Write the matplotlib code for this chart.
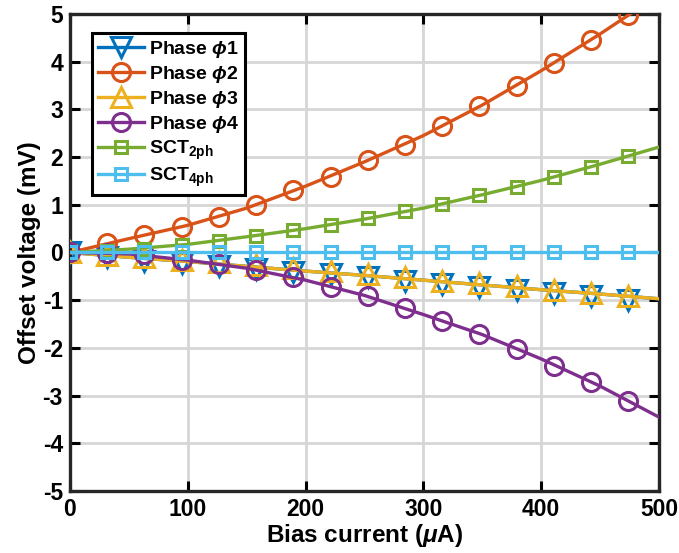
import matplotlib.pyplot as plt
from matplotlib.lines import Line2D

plt.rcParams['font.family'] = ['Liberation Sans', 'DejaVu Sans']
plt.rcParams['font.weight'] = 'bold'
plt.rcParams['axes.unicode_minus'] = False
plt.rcParams['mathtext.fontset'] = 'custom'
plt.rcParams['mathtext.rm'] = 'Liberation Sans:bold'
plt.rcParams['mathtext.bf'] = 'Liberation Sans:bold'
plt.rcParams['mathtext.it'] = 'Liberation Sans:italic'

# Puntos medidos (marcadores)
bias = [0, 31.6, 63.2, 94.8, 126.4, 158, 189.6, 221.2, 252.8, 284.4,
        316, 347.6, 379.2, 410.8, 442.4, 474]
phi1 = [0, -0.10, -0.17, -0.23, -0.28, -0.34, -0.40, -0.46, -0.52, -0.59,
        -0.66, -0.72, -0.78, -0.85, -0.92, -0.99]
phi2 = [0, 0.19, 0.36, 0.53, 0.74, 1.00, 1.30, 1.59, 1.93, 2.26,
        2.66, 3.06, 3.50, 3.97, 4.46, 4.97]
phi3 = [0, -0.05, -0.10, -0.15, -0.20, -0.27, -0.32, -0.38, -0.45, -0.52,
        -0.59, -0.64, -0.71, -0.78, -0.85, -0.91]
phi4 = [0, -0.01, -0.04, -0.15, -0.24, -0.36, -0.52, -0.72, -0.91, -1.16,
        -1.43, -1.70, -2.02, -2.37, -2.72, -3.12]
sct2 = [0, 0.03, 0.08, 0.15, 0.25, 0.35, 0.47, 0.58, 0.72, 0.86,
        1.02, 1.20, 1.38, 1.58, 1.80, 2.03]
sct4 = [0] * 16

# Curvas de ajuste
bias_fit = [0, 50, 100, 150, 200, 250, 300, 350, 400, 450, 500]
fit1 = [0, -0.10, -0.19, -0.29, -0.39, -0.48, -0.58, -0.68, -0.78, -0.87, -0.97]
fit2 = [0, 0.29, 0.57, 0.93, 1.39, 1.90, 2.45, 3.09, 3.81, 4.58, 5.40]
fit3 = [0, -0.10, -0.19, -0.29, -0.39, -0.48, -0.58, -0.68, -0.78, -0.87, -0.97]
fit4 = [0, -0.03, -0.16, -0.33, -0.58, -0.90, -1.30, -1.72, -2.23, -2.80, -3.45]
fit5 = [0, 0.07, 0.17, 0.33, 0.50, 0.70, 0.93, 1.21, 1.51, 1.85, 2.21]
fit6 = [0] * 11

labels = [r'Phase $\phi$1', r'Phase $\phi$2', r'Phase $\phi$3', r'Phase $\phi$4',
          r'SCT$_{\mathbf{2ph}}$', r'SCT$_{\mathbf{4ph}}$']
colors = ['#0072BD', '#D95319', '#EDB120', '#7E2F8E', '#77AC30', '#4DBEEE']
markers = ['v', 'o', '^', 'o', 's', 's']
msizes = [14, 13, 14, 13, 8.5, 8.5]

fig = plt.figure(figsize=(6.79, 5.53), dpi=100)
ax = fig.add_axes([0.103, 0.112, 0.8675, 0.8628])

series = [phi1, phi2, phi3, phi4, sct2, sct4]
fits = [fit1, fit2, fit3, fit4, fit5, fit6]
handles = []
for i in range(6):
    ax.plot(bias_fit, fits[i], '-', color=colors[i], lw=2.4, zorder=3 + i)
    ax.plot(bias, series[i], linestyle='none', marker=markers[i], ms=msizes[i],
            mfc='none', mec=colors[i], mew=2.2, zorder=3 + i)
    handles.append(Line2D([], [], color=colors[i], lw=2.4, marker=markers[i],
                          ms=msizes[i], mfc='none', mec=colors[i], mew=2.2))

ax.set_xlim(0, 500)
ax.set_ylim(-5, 5)
ax.set_xticks(range(0, 501, 100))
ax.set_yticks(range(-5, 6))
ax.grid(True, color='#d6d6d6', lw=2)
ax.set_axisbelow(True)
ax.tick_params(direction='in', length=7, width=2.2, labelsize=16.5,
               top=True, right=True, pad=5)
for s in ax.spines.values():
    s.set_linewidth(2.4)
    s.set_color('#262626')

ax.set_xlabel(r'Bias current ($\mu$A)', fontsize=17.5, fontweight='bold', labelpad=1)
ax.set_ylabel('Offset voltage (mV)', fontsize=17.5, fontweight='bold', labelpad=1)

leg = ax.legend(handles, labels, loc='upper left', bbox_to_anchor=(0.037, 0.96),
                borderaxespad=0, fontsize=14, handlelength=2.4, handletextpad=0.25,
                labelspacing=0.2, borderpad=0.3, fancybox=False, framealpha=1)
leg.get_frame().set_edgecolor('black')
leg.get_frame().set_linewidth(2.2)
leg.set_zorder(20)

fig.savefig('out.png', dpi=100)
